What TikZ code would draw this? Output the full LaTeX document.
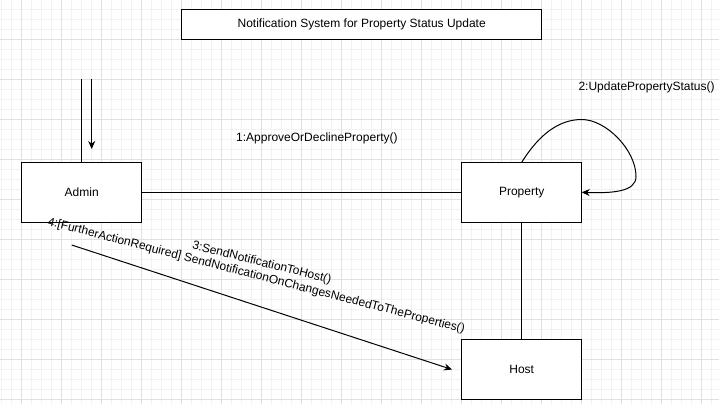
\documentclass[tikz,border=0pt]{standalone}
\usepackage{fontspec}
\setmainfont{Liberation Sans}
\usetikzlibrary{arrows.meta}
\definecolor{gridminor}{HTML}{F2F2F2}
\definecolor{gridmajor}{HTML}{E0E0E0}
\tikzset{
  box/.style={draw=black, line width=1pt, fill=white, minimum width=120pt, minimum height=60pt, inner sep=0pt, outer sep=0pt, font=\fontsize{12}{14}\selectfont},
  titlebox/.style={draw=black, line width=1pt, fill=white, minimum width=360pt, minimum height=30pt, inner sep=0pt, outer sep=0pt, font=\fontsize{12}{14}\selectfont},
  conn/.style={draw=black, line width=1pt},
  arr/.style={conn, -{Stealth[length=8pt,width=7pt]}},
  lbl/.style={inner sep=0pt, font=\fontsize{12}{14}\selectfont},
}
\begin{document}
\begin{tikzpicture}[x=1pt,y=-1pt]
\useasboundingbox (0,0) rectangle (719,404);
\fill[white] (0,0) rectangle (719,404);
% grid
\foreach \gx in {1.7,11.7,...,719} \draw[gridminor, line width=1pt] (\gx,0) -- (\gx,404);
\foreach \gy in {-0.7,9.3,...,404} \draw[gridminor, line width=1pt] (0,\gy) -- (719,\gy);
\foreach \gx in {21.7,61.7,...,719} \draw[gridmajor, line width=1pt] (\gx,0) -- (\gx,404);
\foreach \gy in {39.3,79.3,...,404} \draw[gridmajor, line width=1pt] (0,\gy) -- (719,\gy);

% nodes
\node[titlebox] (title) at (361.7,24.3) {Notification System for Property Status Update};
\node[box] (admin) at (81.7,192.3) {Admin};
\node[box] (property) at (521.7,192.3) {Property};
\node[box] (host) at (521.7,369.3) {Host};

% free ends
\coordinate (topL) at (81.7,79.3);
\coordinate (topR) at (91.7,79.3);
\coordinate (topRend) at (91.7,149);
\coordinate (dS) at (71.7,245);
\coordinate (dE) at (452,369.5);
\coordinate (loopA) at (581.7,119.5);
\coordinate (loopB) at (636,176.5);

% connectors
\draw[conn] (topL) -- (admin.north);
\draw[arr] (topR) -- (topRend);
\draw[conn] (admin.east) -- (property.west);
\draw[conn] (property.south) -- (host.north);
\draw[arr] (dS) -- (dE);
\draw[arr] (property.north) .. controls (540,133) and (560,119.5) .. (loopA)
  .. controls (606,119.5) and (636,150) .. (loopB)
  .. controls (636,192) and (612,193.3) .. (property.east);

% labels
\node[lbl, anchor=base west] (l1) at (236,141.7) {1:ApproveOrDeclineProperty()};
\node[lbl, anchor=base west] (l2) at (578.3,90.7) {2:UpdatePropertyStatus()};
\node[lbl, anchor=base, rotate=-14] (l3) at (261,266) {3:SendNotificationToHost()};
\node[lbl, anchor=base, rotate=-14.5] (l4) at (255.5,279) {4:[FurtherActionRequired] SendNotificationOnChangesNeededToTheProperties()};
\end{tikzpicture}
\end{document}
